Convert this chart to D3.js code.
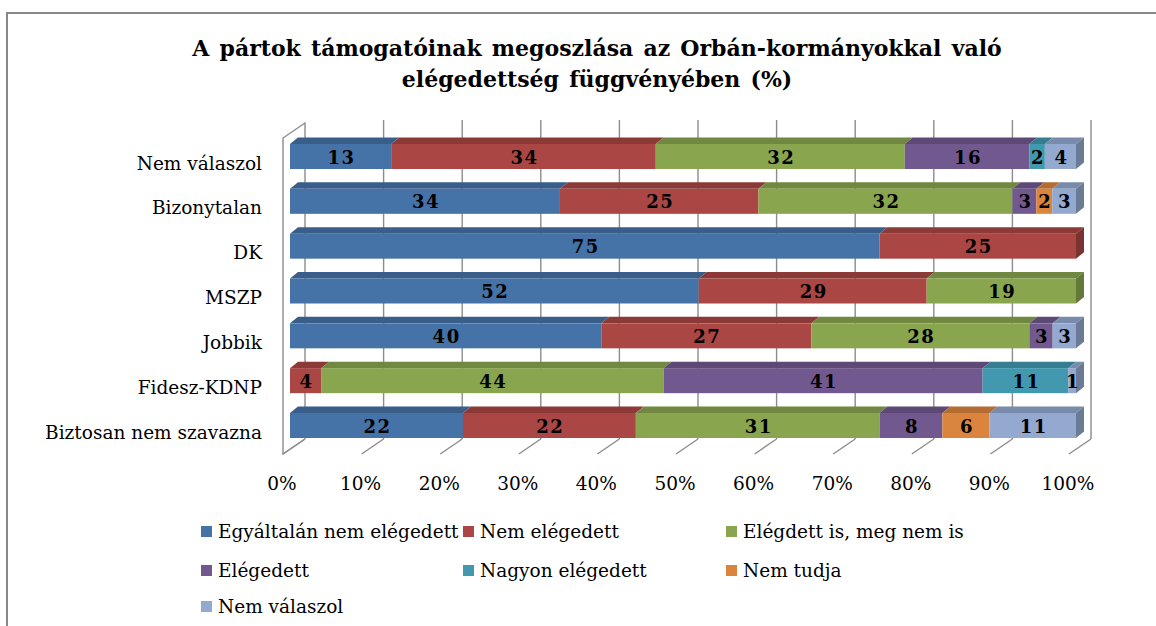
<!DOCTYPE html>
<html><head><meta charset="utf-8">
<script src="https://cdn.jsdelivr.net/npm/d3@7"></script>
<style>
html,body{margin:0;padding:0;background:#fff;}
svg{display:block;}
</style></head>
<body>
<script>
const categories = ["Nem válaszol","Bizonytalan","DK","MSZP","Jobbik","Fidesz-KDNP","Biztosan nem szavazna"];
const seriesNames = ["Egyáltalán nem elégedett","Nem elégedett","Elégdett is, meg nem is","Elégedett","Nagyon elégedett","Nem tudja","Nem válaszol"];
const egyaltalanNem = [13,34,75,52,40,0,22];
const nemElegedett  = [34,25,25,29,27,4,22];
const isMegNemIs    = [32,32,0,19,28,44,31];
const elegedett     = [16,3,0,0,3,41,8];
const nagyonEleg    = [2,0,0,0,0,11,0];
const nemTudja      = [0,2,0,0,0,0,6];
const nemValaszol   = [4,3,0,0,3,1,11];
const tickLabels = ["0%","10%","20%","30%","40%","50%","60%","70%","80%","90%","100%"];
const colors = ["#4572A7","#AA4643","#89A54E","#71588F","#4198AF","#DB843D","#93A9CF"];
const titleLines = ["A pártok támogatóinak megoszlása az Orbán-kormányokkal való","elégedettség függvényében (%)"];

const W=1156,H=626;
const svg=d3.select("body").append("svg").attr("width",W).attr("height",H);
const serif="'DejaVu Serif', serif";
const fs=18.5;

// outer frame
svg.append("rect").attr("x",7).attr("y",13).attr("width",1300).attr("height",700)
  .attr("fill","none").attr("stroke","#888").attr("stroke-width",2);

// title
titleLines.forEach((t,i)=>{
  svg.append("text").attr("x",597).attr("y",56+i*31).attr("text-anchor","middle")
   .attr("font-family",serif).attr("font-weight","bold").attr("font-size",22)
   .attr("word-spacing",2.5).attr("fill","#000").text(t);
});

const seriesVals=[egyaltalanNem,nemElegedett,isMegNemIs,elegedett,nagyonEleg,nemTudja,nemValaszol];
const rows=categories.map((c,i)=>{const o={cat:c}; seriesNames.forEach((s,j)=>o[s]=seriesVals[j][i]); return o;});
const stack=d3.stack().keys(seriesNames).offset(d3.stackOffsetExpand)(rows);

// scales
const x=d3.scaleLinear().domain([0,1]).range([290,1076]);   // bar front face
const y=d3.scalePoint().domain(categories).range([156.5,425.5]);
const barH=25, bdx=8, bdy=6.5;
const wallBack=15, wallFront=-7;
const floorBackY=439, floorFrontY=454, wallTopBack=123, wallTopFront=138;

// gridlines (back wall + floor)
const g=svg.append("g");
const ticks=d3.range(0,1.0001,0.1);
ticks.forEach(t=>{
  const xb=x(t)+wallBack, xf=x(t)+wallFront;
  if(t>0) g.append("line").attr("x1",xb).attr("x2",xb).attr("y1",wallTopBack-3).attr("y2",floorBackY)
     .attr("stroke","#8c8c8c").attr("stroke-width",1.4);
  g.append("line").attr("x1",xb).attr("x2",xf).attr("y1",floorBackY).attr("y2",floorFrontY)
     .attr("stroke","#8c8c8c").attr("stroke-width",1.4);
});
// left wall
const x0b=x(0)+wallBack, x0f=x(0)+wallFront;
g.append("path").attr("d",`M${x0b},${floorBackY}L${x0b},${wallTopBack}L${x0f},${wallTopFront}L${x0f},${floorFrontY}L${x0b},${floorBackY}`)
  .attr("fill","none").attr("stroke","#8c8c8c").attr("stroke-width",1.4);

// bars
const bars=svg.append("g");
const lastKeyIdx=categories.map((c,i)=>{let k=-1; stack.forEach((s,j)=>{if(s[i][1]-s[i][0]>1e-9)k=j;}); return k;});
stack.forEach((s,j)=>{
  const col=colors[j];
  const top=d3.color(col).darker(0.55).toString();
  const side=d3.color(col).darker(0.9).toString();
  s.forEach((d,i)=>{
    if(d[1]-d[0]<1e-9) return;
    const x0=x(d[0]), x1=x(d[1]), yt=y(categories[i])-barH/2, yb=yt+barH;
    bars.append("path").attr("d",`M${x0},${yt}L${x0+bdx},${yt-bdy}L${x1+bdx},${yt-bdy}L${x1},${yt}Z`).attr("fill",top);
    if(j===lastKeyIdx[i])
      bars.append("path").attr("d",`M${x1},${yt}L${x1+bdx},${yt-bdy}L${x1+bdx},${yb-bdy}L${x1},${yb}Z`).attr("fill",side);
    bars.append("rect").attr("x",x0).attr("y",yt).attr("width",x1-x0).attr("height",barH).attr("fill",col);
  });
});
// value labels
stack.forEach((s,j)=>{
  s.forEach((d,i)=>{
    const v=seriesVals[j][i]; if(!v) return;
    bars.append("text").attr("x",(x(d[0])+x(d[1]))/2+1).attr("y",y(categories[i])+7)
      .attr("text-anchor","middle").attr("font-family",serif).attr("font-weight","bold")
      .attr("font-size",18).attr("letter-spacing",1.5).attr("fill","#000").text(v);
  });
});

// category labels
categories.forEach(c=>{
  svg.append("text").attr("x",262).attr("y",y(c)+13).attr("text-anchor","end")
    .attr("font-family",serif).attr("font-size",fs).attr("fill","#000").text(c);
});
// tick labels
ticks.forEach((t,i)=>{
  svg.append("text").attr("x",x(t)+wallFront-1).attr("y",490).attr("text-anchor","middle")
    .attr("font-family",serif).attr("font-size",fs).attr("fill","#000").text(tickLabels[i]);
});

// legend
const legX=[201,463,726], legY=[532,571,607];
seriesNames.forEach((s,i)=>{
  const cx=legX[i%3], cy=legY[Math.floor(i/3)];
  svg.append("rect").attr("x",cx).attr("y",cy-6).attr("width",11).attr("height",11).attr("fill",colors[i]);
  svg.append("text").attr("x",cx+17).attr("y",cy+6).attr("font-family",serif).attr("font-size",fs)
    .attr("fill","#000").text(s);
});
</script>
</body></html>
